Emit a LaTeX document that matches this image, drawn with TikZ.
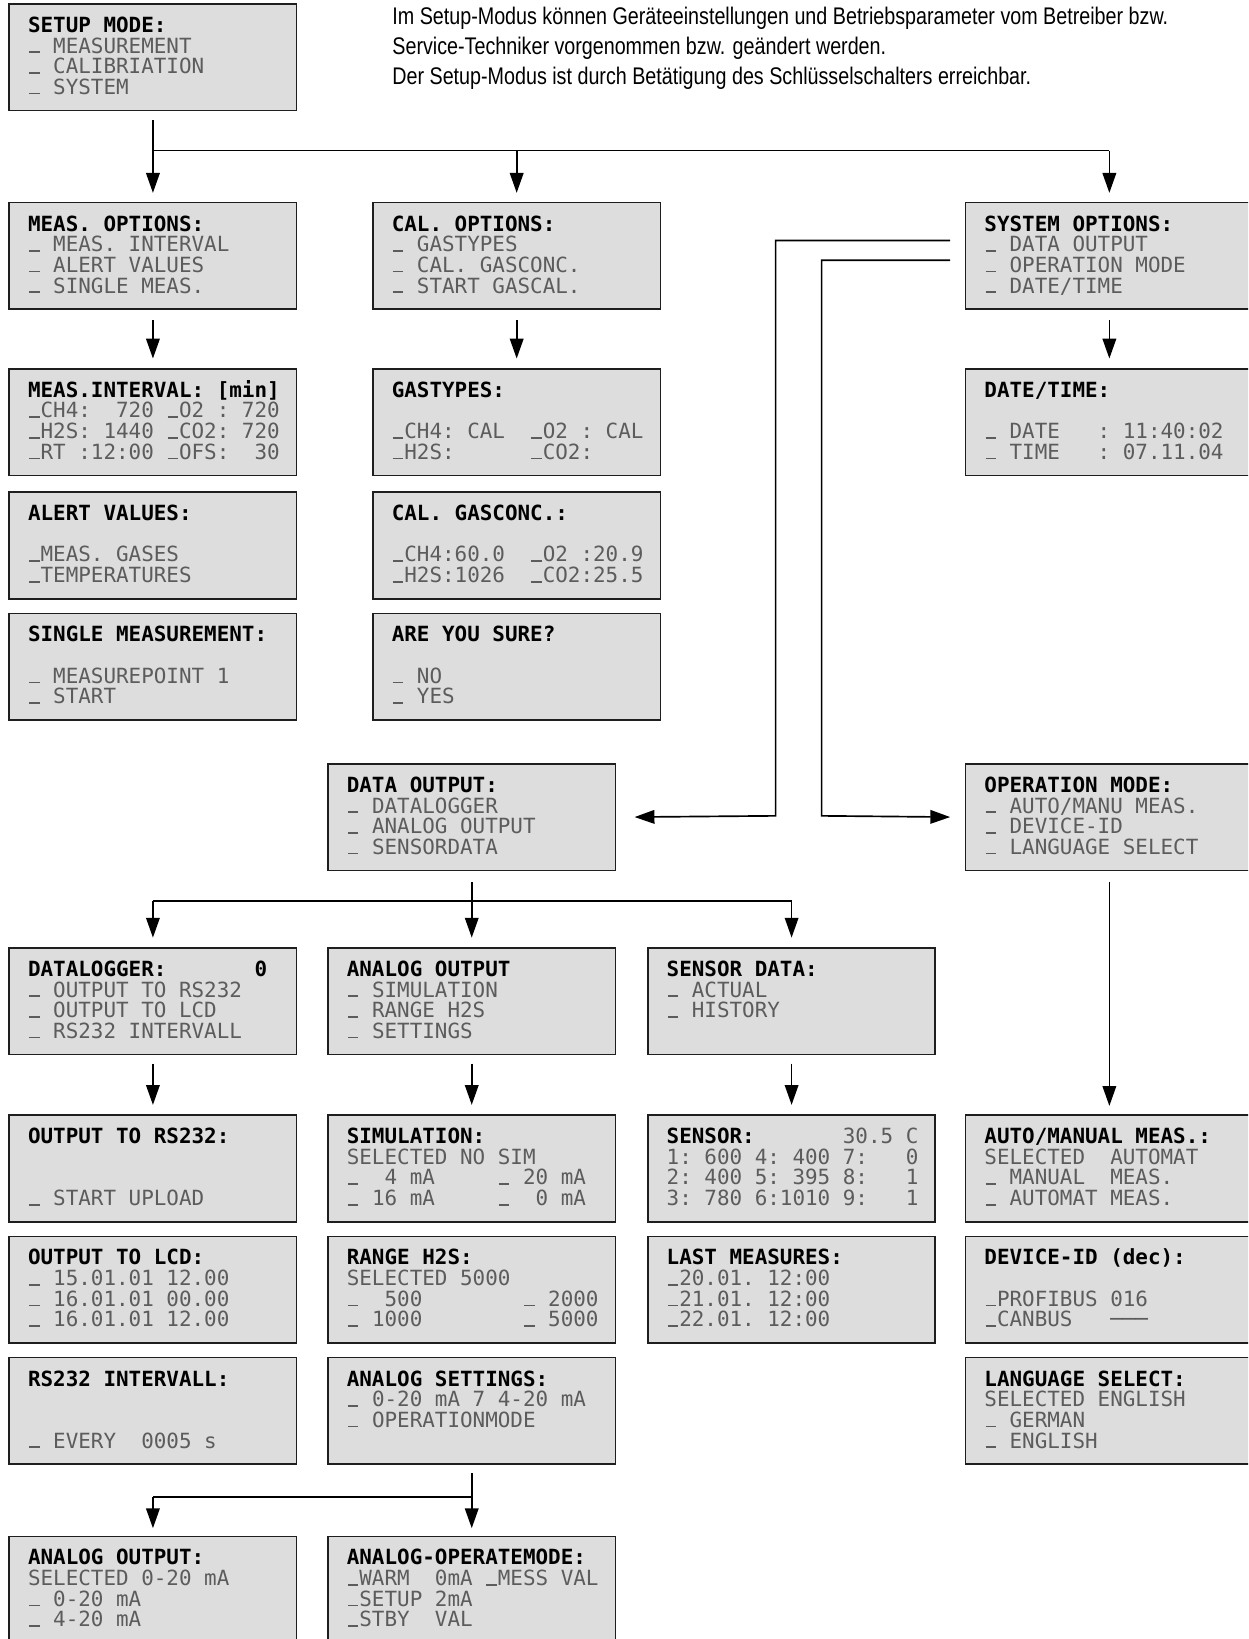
\documentclass[tikz,border=0pt]{standalone}
\usepackage{fontspec}
\usetikzlibrary{arrows.meta,calc}
\newfontfamily\lcdfont{DejaVu Sans Mono}
\newfontfamily\descfont{Liberation Sans}[FakeStretch=0.82]
\definecolor{lcdfill}{RGB}{221,221,221}
\definecolor{lcdline}{RGB}{30,30,30}
\definecolor{lcdgrey}{RGB}{92,92,92}
\newcommand\lcdtitle[1]{{\bfseries\color{black}#1}}
\newcommand\lcdus{\makebox[0.602em][c]{\rule{0.5em}{0.08em}}}
\newcommand\lcdc[1]{\hspace*{9pt}\parbox[c][51pt][t]{128.5pt}{\frenchspacing\let\_\lcdus\baselineskip=9.9pt\lineskiplimit=-100pt\lineskip=0pt\rule{0pt}{13.6pt}#1}}
\tikzset{
  lcd/.style={draw=lcdline, line width=0.8pt, fill=lcdfill, anchor=north west,
    inner xsep=0pt, inner ysep=0pt, text=lcdgrey,
    font=\lcdfont\fontsize{10pt}{9.9pt}\selectfont},
  ln/.style={line width=0.8pt, draw=black},
  arr/.style={ln, -{Triangle[length=9.5pt,width=6.5pt]}},
  desc/.style={font=\descfont\fontsize{11.5pt}{14pt}\selectfont, inner sep=0pt, anchor=base west, text=black}
}
\begin{document}
\begin{tikzpicture}[x=0.5pt,y=-0.5pt]
\useasboundingbox (0,0) rectangle (1194,1568);
\clip (0,0) rectangle (1194,1568);

% description
\node[desc] (d1) at (375,23.5) {Im Setup-Modus können Geräteeinstellungen und Betriebsparameter vom Betreiber bzw.};
\node[desc] (d2) at (375,52) {Service-Techniker vorgenommen bzw. geändert werden.};
\node[desc] (d3) at (375,80.5) {Der Setup-Modus ist durch Betätigung des Schlüsselschalters erreichbar.};

% boxes
\node[lcd] (setup) at (8,3) {\lcdc{\lcdtitle{SETUP MODE:}\\\_ MEASUREMENT\\\_ CALIBRIATION\\\_ SYSTEM}};

\node[lcd] (measopt) at (8,193) {\lcdc{\lcdtitle{MEAS. OPTIONS:}\\\_ MEAS. INTERVAL\\\_ ALERT VALUES\\\_ SINGLE MEAS.}};
\node[lcd] (calopt) at (356,193) {\lcdc{\lcdtitle{CAL. OPTIONS:}\\\_ GASTYPES\\\_ CAL. GASCONC.\\\_ START GASCAL.}};
\node[lcd] (sysopt) at (923,193) {\lcdc{\lcdtitle{SYSTEM OPTIONS:}\\\_ DATA OUTPUT\\\_ OPERATION MODE\\\_ DATE/TIME}};

\node[lcd] (measint) at (8,352) {\lcdc{\lcdtitle{MEAS.INTERVAL: [min]}\\\_CH4:~~720 \_O2 : 720\\\_H2S: 1440 \_CO2: 720\\\_RT :12:00 \_OFS:~~30}};
\node[lcd] (gastypes) at (356,352) {\lcdc{\lcdtitle{GASTYPES:}\\\mbox{}\\\_CH4: CAL~~\_O2 : CAL\\\_H2S:~~~~~~\_CO2:}};
\node[lcd] (datetime) at (923,352) {\lcdc{\lcdtitle{DATE/TIME:}\\\mbox{}\\\_ DATE~~~: 11:40:02\\\_ TIME~~~: 07.11.04}};

\node[lcd] (alert) at (8,470) {\lcdc{\lcdtitle{ALERT VALUES:}\\\mbox{}\\\_MEAS. GASES\\\_TEMPERATURES}};
\node[lcd] (gasconc) at (356,470) {\lcdc{\lcdtitle{CAL. GASCONC.:}\\\mbox{}\\\_CH4:60.0~~\_O2 :20.9\\\_H2S:1026~~\_CO2:25.5}};

\node[lcd] (single) at (8,586) {\lcdc{\lcdtitle{SINGLE MEASUREMENT:}\\\mbox{}\\\_ MEASUREPOINT 1\\\_ START}};
\node[lcd] (sure) at (356,586) {\lcdc{\lcdtitle{ARE YOU SURE?}\\\mbox{}\\\_ NO\\\_ YES}};

\node[lcd] (dataout) at (313,730) {\lcdc{\lcdtitle{DATA OUTPUT:}\\\_ DATALOGGER\\\_ ANALOG OUTPUT\\\_ SENSORDATA}};
\node[lcd] (opmode) at (923,730) {\lcdc{\lcdtitle{OPERATION MODE:}\\\_ AUTO/MANU MEAS.\\\_ DEVICE-ID\\\_ LANGUAGE SELECT}};

\node[lcd] (datalog) at (8,906) {\lcdc{\lcdtitle{DATALOGGER:~~~~~~~0}\\\_ OUTPUT TO RS232\\\_ OUTPUT TO LCD\\\_ RS232 INTERVALL}};
\node[lcd] (anout) at (313,906) {\lcdc{\lcdtitle{ANALOG OUTPUT}\\\_ SIMULATION\\\_ RANGE H2S\\\_ SETTINGS}};
\node[lcd] (sensdata) at (619,906) {\lcdc{\lcdtitle{SENSOR DATA:}\\\_ ACTUAL\\\_ HISTORY\\\mbox{}}};

\node[lcd] (rs232) at (8,1066) {\lcdc{\lcdtitle{OUTPUT TO RS232:}\\\mbox{}\\\mbox{}\\\_ START UPLOAD}};
\node[lcd] (simul) at (313,1066) {\lcdc{\lcdtitle{SIMULATION:}\\SELECTED NO SIM\\\_~~4 mA~~~~~\_ 20 mA\\\_ 16 mA~~~~~\_~~0 mA}};
\node[lcd] (sensor) at (619,1066) {\lcdc{\lcdtitle{SENSOR:}~~~~~~~30.5 C\\1: 600 4: 400 7:~~~0\\2: 400 5: 395 8:~~~1\\3: 780 6:1010 9:~~~1}};
\node[lcd] (automan) at (923,1066) {\lcdc{\lcdtitle{AUTO/MANUAL MEAS.:}\\SELECTED~~AUTOMAT\\\_ MANUAL~~MEAS.\\\_ AUTOMAT MEAS.}};

\node[lcd] (outlcd) at (8,1182) {\lcdc{\lcdtitle{OUTPUT TO LCD:}\\\_ 15.01.01 12.00\\\_ 16.01.01 00.00\\\_ 16.01.01 12.00}};
\node[lcd] (range) at (313,1182) {\lcdc{\lcdtitle{RANGE H2S:}\\SELECTED 5000\\\_~~500~~~~~~~~\_ 2000\\\_ 1000~~~~~~~~\_ 5000}};
\node[lcd] (lastmeas) at (619,1182) {\lcdc{\lcdtitle{LAST MEASURES:}\\\_20.01. 12:00\\\_21.01. 12:00\\\_22.01. 12:00}};
\node[lcd] (devid) at (923,1182) {\lcdc{\lcdtitle{DEVICE-ID (dec):}\\\mbox{}\\\_PROFIBUS 016\\\_CANBUS~~~───}};

\node[lcd] (interv) at (8,1298) {\lcdc{\lcdtitle{RS232 INTERVALL:}\\\mbox{}\\\mbox{}\\\_ EVERY~~0005 s}};
\node[lcd] (anset) at (313,1298) {\lcdc{\lcdtitle{ANALOG SETTINGS:}\\\_ 0-20 mA 7 4-20 mA\\\_ OPERATIONMODE\\\mbox{}}};
\node[lcd] (lang) at (923,1298) {\lcdc{\lcdtitle{LANGUAGE SELECT:}\\SELECTED ENGLISH\\\_ GERMAN\\\_ ENGLISH}};

\node[lcd] (anout2) at (8,1469) {\lcdc{\lcdtitle{ANALOG OUTPUT:}\\SELECTED 0-20 mA\\\_ 0-20 mA\\\_ 4-20 mA}};
\node[lcd] (anmode) at (313,1469) {\lcdc{\lcdtitle{ANALOG-OPERATEMODE:}\\\_WARM~~0mA \_MESS VAL\\\_SETUP 2mA\\\_STBY~~VAL}};

% connectors
\coordinate (j1) at (0,144);
\draw[arr, shorten <=4pt, shorten >=4.25pt] (setup.south) -- (measopt.north);
\draw[ln] (setup.south |- j1) -- (sysopt.north |- j1);
\draw[arr, shorten >=4.25pt] (calopt.north |- j1) -- (calopt.north);
\draw[arr, shorten >=4.25pt] (sysopt.north |- j1) -- (sysopt.north);

\draw[arr, shorten <=5pt, shorten >=4.5pt] (measopt.south) -- (measint.north);
\draw[arr, shorten <=5pt, shorten >=4.5pt] (calopt.south) -- (gastypes.north);
\draw[arr, shorten <=5pt, shorten >=4.5pt] (sysopt.south) -- (datetime.north);

\coordinate (s1) at ($(sysopt.north west)+(-14,37)$);
\coordinate (s2) at ($(sysopt.north west)+(-14,56)$);
\draw[arr, shorten >=8.75pt] (s1) -| (742,780.5) -- (dataout.east);
\draw[arr, shorten >=7pt] (s2) -| (786,780.5) -- (opmode.west);

\coordinate (j2) at (0,862);
\draw[ln, shorten <=5pt] (dataout.south) -- (dataout.south |- j2);
\draw[ln] (datalog.north |- j2) -- (sensdata.north |- j2);
\draw[arr, shorten >=4.5pt] (datalog.north |- j2) -- (datalog.north);
\draw[arr, shorten >=4.5pt] (anout.north |- j2) -- (anout.north);
\draw[arr, shorten >=4.5pt] (sensdata.north |- j2) -- (sensdata.north);

\draw[arr, shorten <=5pt, shorten >=4pt] (opmode.south) -- (automan.north);

\draw[arr, shorten <=4pt, shorten >=4.5pt] (datalog.south) -- (rs232.north);
\draw[arr, shorten <=4pt, shorten >=4.5pt] (anout.south) -- (simul.north);
\draw[arr, shorten <=4pt, shorten >=4.5pt] (sensdata.south) -- (sensor.north);

\coordinate (j3) at (0,1432);
\draw[ln, shorten <=4pt] (anset.south) -- (anset.south |- j3);
\draw[ln] (anout2.north |- j3) -- (anset.south |- j3);
\draw[arr, shorten >=3.5pt] (anout2.north |- j3) -- (anout2.north);
\draw[arr, shorten >=3.5pt] (anmode.north |- j3) -- (anmode.north);
\end{tikzpicture}
\end{document}
